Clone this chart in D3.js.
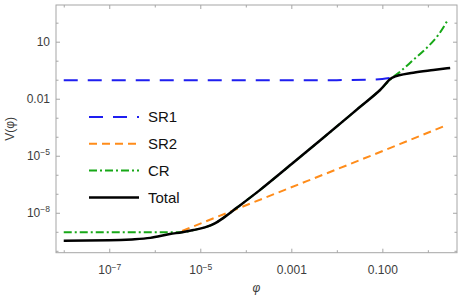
<!DOCTYPE html>
<html>
<head>
<meta charset="utf-8">
<script src="https://cdn.jsdelivr.net/npm/d3@7"></script>
<style>
  body { margin: 0; background: #fff; }
  text { font-family: "Liberation Sans", Arial, sans-serif; }
</style>
</head>
<body>
<div id="chart-area"></div>
<script>
// values (phi, V)
let sr1Phi = [1e-8, 1e-6, 1e-4, 1e-2, 0.05, 0.1, 0.166];
let sr1V   = [0.095, 0.095, 0.095, 0.095, 0.1, 0.11, 0.129];

let sr2Phi = [3.98e-6, 5.25e-5, 0.24, 2.63];
let sr2V   = [1.1e-9, 1.32e-8, 4.07e-5, 4.17e-4];

let crPhi = [1e-8, 1e-6, 3.98e-6, 7.08e-6, 1.26e-5, 2.09e-5, 3.16e-5, 6.31e-5, 2.0e-4, 1e-3, 4.27e-3, 3.16e-2, 8.91e-2, 0.166, 0.245, 0.479, 0.933, 1.70, 2.82];
let crV   = [9.33e-10, 9.33e-10, 9.55e-10, 1.23e-9, 1.70e-9, 2.75e-9, 5.25e-9, 1.82e-8, 1.51e-7, 3.55e-6, 6.31e-5, 3.55e-3, 2.88e-2, 0.129, 0.263, 1.10, 4.57, 22.9, 155];

let totalPhi = [1e-8, 1e-7, 3.16e-7, 7.94e-7, 2.14e-6, 3.98e-6, 7.08e-6, 1.26e-5, 2.09e-5, 3.16e-5, 6.31e-5, 2.0e-4, 1e-3, 4.27e-3, 3.16e-2, 8.91e-2, 0.166, 0.479, 1.32, 3.09];
let totalV   = [3.39e-10, 3.55e-10, 3.98e-10, 4.79e-10, 7.59e-10, 9.55e-10, 1.23e-9, 1.70e-9, 2.75e-9, 5.25e-9, 1.82e-8, 1.51e-7, 3.55e-6, 6.31e-5, 3.55e-3, 2.88e-2, 0.129, 0.234, 0.324, 0.417];

let xMajor = [1e-7, 1e-5, 1e-3, 1e-1];
let xMajorLabels = [["10", "\u22127"], ["10", "\u22125"], ["0.001"], ["0.100"]];
let xMinor = [1e-8, 1e-6, 1e-4, 1e-2, 1];
let yMajor = [10, 0.01, 1e-5, 1e-8];
let yMajorLabels = [["10"], ["0.01"], ["10", "\u22125"], ["10", "\u22128"]];
let yMinor = [1e-10, 1e-9, 1e-7, 1e-6, 1e-4, 1e-3, 0.1, 1, 100];

let seriesNames = ["SR1", "SR2", "CR", "Total"];

let width = 463, height = 298;
let margin = { left: 56, right: 6, top: 5, bottom: 45.3 };
let w = width - margin.left - margin.right;
let h = height - margin.top - margin.bottom;

let svg = d3.select("#chart-area")
    .append("svg")
    .attr("width", width)
    .attr("height", height);

let g = svg.append("g")
    .attr("transform", "translate(" + margin.left + "," + margin.top + ")");

let xScale = d3.scaleLog()
    .domain([Math.pow(10, -8.17), Math.pow(10, 0.64)])
    .range([0, w]);

let yScale = d3.scaleLog()
    .domain([Math.pow(10, -10.1), Math.pow(10, 2.93)])
    .range([h, 0]);

let frameColor = "#a6a6a6";
let labelColor = "#3c3c3c";

// frame
g.append("rect")
    .attr("width", w)
    .attr("height", h)
    .attr("fill", "none")
    .attr("stroke", frameColor)
    .attr("stroke-width", 1);

function styleAxis(sel) {
    sel.select(".domain").remove();
    sel.selectAll("line").attr("stroke", frameColor);
    sel.selectAll("text").attr("fill", labelColor).attr("font-size", "12px");
}

// write tick labels with superscripts
function supLabels(sel, labels) {
    sel.selectAll(".tick text").each(function(d, i) {
        let t = d3.select(this).text("");
        let parts = labels[i];
        t.append("tspan").text(parts[0]);
        if (parts.length > 1) {
            t.append("tspan")
                .attr("font-size", "8.5px")
                .attr("dy", "-0.55em")
                .text(parts[1]);
        }
    });
}

// bottom axis
let xAx = g.append("g")
    .attr("transform", "translate(0," + h + ")")
    .call(d3.axisBottom(xScale).tickValues(xMajor).tickSizeInner(-4).tickSizeOuter(0).tickPadding(13));
styleAxis(xAx);
supLabels(xAx, xMajorLabels);

let xAxMin = g.append("g")
    .attr("transform", "translate(0," + h + ")")
    .call(d3.axisBottom(xScale).tickValues(xMinor).tickSizeInner(-2.5).tickSizeOuter(0).tickFormat(""));
styleAxis(xAxMin);

// top mirrored ticks
let xTop = g.append("g")
    .call(d3.axisTop(xScale).tickValues(xMajor).tickSizeInner(-4).tickSizeOuter(0).tickFormat(""));
styleAxis(xTop);
let xTopMin = g.append("g")
    .call(d3.axisTop(xScale).tickValues(xMinor).tickSizeInner(-2.5).tickSizeOuter(0).tickFormat(""));
styleAxis(xTopMin);

// left axis
let yAx = g.append("g")
    .call(d3.axisLeft(yScale).tickValues(yMajor).tickSizeInner(-4).tickSizeOuter(0).tickPadding(6));
styleAxis(yAx);
supLabels(yAx, yMajorLabels);

let yAxMin = g.append("g")
    .call(d3.axisLeft(yScale).tickValues(yMinor).tickSizeInner(-2.5).tickSizeOuter(0).tickFormat(""));
styleAxis(yAxMin);

// right mirrored ticks
let yRight = g.append("g")
    .attr("transform", "translate(" + w + ",0)")
    .call(d3.axisRight(yScale).tickValues(yMajor).tickSizeInner(-4).tickSizeOuter(0).tickFormat(""));
styleAxis(yRight);
let yRightMin = g.append("g")
    .attr("transform", "translate(" + w + ",0)")
    .call(d3.axisRight(yScale).tickValues(yMinor).tickSizeInner(-2.5).tickSizeOuter(0).tickFormat(""));
styleAxis(yRightMin);

// X LABEL
g.append("text")
    .attr("x", w / 2)
    .attr("y", h + 39)
    .attr("text-anchor", "middle")
    .attr("font-size", "12px")
    .attr("font-style", "italic")
    .attr("fill", labelColor)
    .text("\u03c6");

// Y LABEL
g.append("text")
    .attr("transform", "rotate(-90)")
    .attr("x", -(h / 2))
    .attr("y", -42)
    .attr("text-anchor", "middle")
    .attr("font-size", "12px")
    .attr("fill", labelColor)
    .text("V(\u03c6)");

let styles = [
    { color: "#1e1ef0", dash: "14,10", width: 2 },
    { color: "#ff8c1a", dash: "8,5", width: 2 },
    { color: "#17a817", dash: "8,3,2,3", width: 2 },
    { color: "#000000", dash: null, width: 2.5 }
];

let seriesData = [
    d3.zip(sr1Phi, sr1V),
    d3.zip(sr2Phi, sr2V),
    d3.zip(crPhi, crV),
    d3.zip(totalPhi, totalV)
];

let line = d3.line()
    .x(function(d) { return xScale(d[0]); })
    .y(function(d) { return yScale(d[1]); })
    .curve(d3.curveMonotoneX);

let plot = g.append("g");
seriesData.forEach(function(data, i) {
    plot.append("path")
        .datum(data)
        .attr("d", line)
        .attr("fill", "none")
        .attr("stroke", styles[i].color)
        .attr("stroke-width", styles[i].width)
        .attr("stroke-linejoin", "round")
        .attr("stroke-dasharray", styles[i].dash);
});

// legend
let legend = svg.append("g")
    .attr("transform", "translate(89,117)");

seriesNames.forEach(function(name, i) {
    let row = legend.append("g").attr("transform", "translate(0," + (i * 26.8) + ")");
    row.append("line")
        .attr("x1", 0).attr("x2", 50)
        .attr("stroke", styles[i].color)
        .attr("stroke-width", styles[i].width)
        .attr("stroke-dasharray", styles[i].dash);
    row.append("text")
        .attr("x", 59)
        .attr("dy", "0.35em")
        .attr("font-size", "15px")
        .attr("fill", "#111")
        .text(name);
});
</script>
</body>
</html>
